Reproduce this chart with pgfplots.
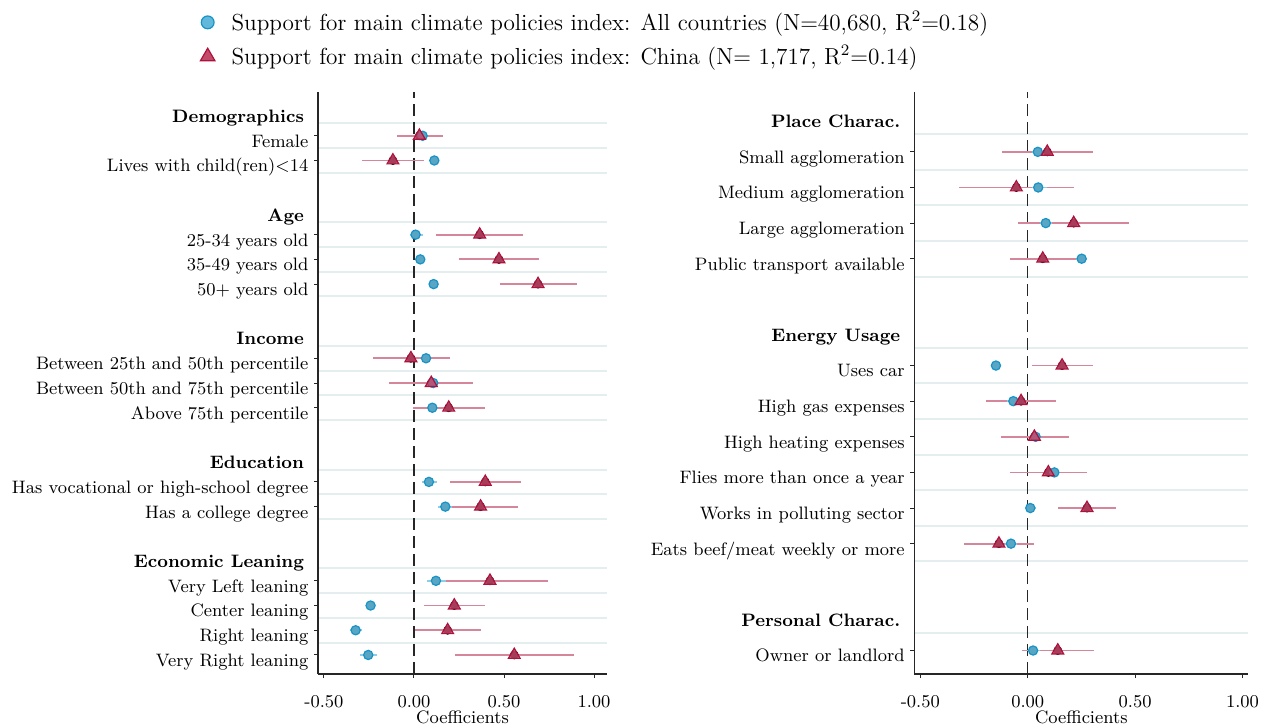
\documentclass[border=0pt]{standalone}
\usepackage{fontspec}
\usepackage{pgfplots}
\pgfplotsset{compat=1.18}
\usepackage{pgfplotstable}

\definecolor{cblue}{RGB}{98,184,218}
\definecolor{cblueedge}{RGB}{22,148,200}
\definecolor{cblueci}{RGB}{140,206,232}
\definecolor{cred}{RGB}{196,74,108}
\definecolor{credge}{RGB}{172,18,60}
\definecolor{credci}{RGB}{214,134,155}
\definecolor{gridc}{RGB}{229,238,239}

% Left panel: All countries
\pgfplotstableread{
row est lo hi
1 0.048 0.028 0.068
2 0.113 0.093 0.133
5 0.009 -0.022 0.052
6 0.035 0.013 0.057
7 0.109 0.089 0.129
10 0.067 0.045 0.089
11 0.107 0.085 0.129
12 0.102 0.080 0.124
15 0.083 0.043 0.126
16 0.174 0.135 0.209
19 0.122 0.074 0.176
20 -0.241 -0.265 -0.217
21 -0.324 -0.356 -0.287
22 -0.254 -0.300 -0.204
}\leftblue
% Left panel: China
\pgfplotstableread{
row est lo hi
1 0.030 -0.096 0.159
2 -0.117 -0.287 0.054
5 0.365 0.122 0.607
6 0.472 0.250 0.696
7 0.689 0.478 0.904
10 -0.017 -0.226 0.200
11 0.096 -0.137 0.328
12 0.193 -0.004 0.393
15 0.396 0.200 0.593
16 0.370 0.163 0.580
19 0.422 0.135 0.743
20 0.224 0.056 0.396
21 0.187 0.006 0.370
22 0.557 0.228 0.891
}\leftred
% Right panel: All countries
\pgfplotstableread{
row est lo hi
0 0.047 0.020 0.074
1 0.049 0.019 0.088
2 0.084 0.055 0.113
3 0.251 0.225 0.277
6 -0.148 -0.170 -0.126
7 -0.067 -0.095 -0.040
8 0.037 0.010 0.064
9 0.124 0.100 0.148
10 0.012 -0.008 0.039
11 -0.078 -0.106 -0.050
14 0.025 -0.005 0.055
}\rightblue
% Right panel: China
\pgfplotstableread{
row est lo hi
0 0.091 -0.120 0.303
1 -0.053 -0.318 0.216
2 0.214 -0.044 0.473
3 0.070 -0.084 0.228
6 0.160 0.018 0.303
7 -0.031 -0.193 0.130
8 0.031 -0.123 0.191
9 0.096 -0.081 0.276
10 0.276 0.141 0.411
11 -0.134 -0.295 0.029
14 0.140 -0.028 0.307
}\rightred

\pgfplotsset{
  common/.style={
    scale only axis,
    axis x line*=bottom, axis y line*=left,
    axis line style={black!85, line width=0.6pt},
    xtick={-0.5,0,0.5,1}, xticklabels={-0.50,0.00,0.50,1.00},
    tick align=outside, major tick length=2pt,
    tick style={black!85, line width=0.5pt},
    every tick label/.append style={font=\fontsize{9}{11}\selectfont},
    xticklabel style={anchor=base, yshift=-14.5pt},
    yticklabel style={anchor=base east, yshift=-5.7pt, xshift=0.7pt},
    yminorgrids, minor tick length=0pt,
    minor grid style={gridc, line width=1pt},
    xlabel={Coefficients},
    xlabel style={font=\fontsize{9}{11}\selectfont, at={(axis description cs:0.5,0)}, anchor=base, yshift=-24.5pt},
    extra y tick style={major tick length=0pt, yticklabel style={xshift=-4.2pt}},
    clip=false,
  },
  ci/.style={only marks, mark=none, forget plot,
    error bars/.cd, x dir=both, x explicit, error mark=none,
    error bar style={line width=0.9pt, draw=#1}},
  bluept/.style={only marks, mark=*, mark size=2.3pt, draw=cblueedge, fill=cblue, fill opacity=0.9, line width=0.6pt, forget plot},
  redpt/.style={only marks, mark=triangle*, mark size=3.4pt, draw=credge, fill=cred, fill opacity=0.85, line width=0.6pt, forget plot},
}

\begin{document}
\begin{tikzpicture}
\useasboundingbox (0,0) rectangle (631pt,362.5pt);
\begin{axis}[common,
  at={(159pt,25.5pt)}, anchor=south west,
  width=144.5pt, height=291pt,
  xmin=-0.533, xmax=1.072, ymin=-22.77, ymax=0.77,
  ytick={-22,-21,-20,-19,-16,-15,-12,-11,-10,-7,-6,-5,-2,-1},
  yticklabels={Very Right leaning, Right leaning, Center leaning, Very Left leaning,
    Has a college degree, Has vocational or high-school degree,
    Above 75th percentile, Between 50th and 75th percentile, Between 25th and 50th percentile,
    50+ years old, 35-49 years old, 25-34 years old,
    Lives with child(ren)$<$14, Female},
  extra y ticks={-18,-14,-9,-4,0},
  extra y tick labels={\textbf{Economic Leaning},\textbf{Education},\textbf{Income},\textbf{Age},\textbf{Demographics}},
  minor ytick={-21.5,-20.5,-19.5,-18.5,-16.5,-15.5,-14.5,-12.5,-11.5,-10.5,-9.5,-7.5,-6.5,-5.5,-4.5,-2.5,-1.5,-0.5},
  legend style={at={(axis description cs:-0.429,1.153)}, anchor=north west, draw=none, fill=none,
    font=\fontsize{11.6}{13.8}\selectfont, row sep=2.1pt,
    /tikz/every odd column/.append style={column sep=6.3pt}},
  legend cell align=left,
]
\addlegendimage{only marks, mark=*, mark size=3.2pt, draw=cblueedge, fill=cblue, line width=0.6pt}
\addlegendentry{Support for main climate policies index: All countries (N=40,680, R$^2$=0.18)}
\addlegendimage{only marks, mark=triangle*, mark size=4.2pt, draw=credge, fill=cred, line width=0.6pt}
\addlegendentry{Support for main climate policies index: China (N= 1,717, R$^2$=0.14)}
\addplot[black!85, line width=0.7pt, dash pattern=on 6pt off 3pt, forget plot] coordinates {(0,-22.77) (0,0.77)};
\addplot[ci=credci] table[x=est, y expr=-\thisrow{row}, x error plus expr=\thisrow{hi}-\thisrow{est}, x error minus expr=\thisrow{est}-\thisrow{lo}] {\leftred};
\addplot[ci=cblueci] table[x=est, y expr=-\thisrow{row}, x error plus expr=\thisrow{hi}-\thisrow{est}, x error minus expr=\thisrow{est}-\thisrow{lo}] {\leftblue};
\addplot[bluept] table[x=est, y expr=-\thisrow{row}] {\leftblue};
\addplot[redpt] table[x=est, y expr=-\thisrow{row}] {\leftred};
\end{axis}

\begin{axis}[common,
  at={(457.15pt,25.5pt)}, anchor=south west,
  width=167pt, height=291pt,
  xmin=-0.528, xmax=1.027, ymin=-14.66, ymax=1.68,
  ytick={-14,-11,-10,-9,-8,-7,-6,-3,-2,-1,0},
  yticklabels={Owner or landlord, Eats beef/meat weekly or more, Works in polluting sector,
    Flies more than once a year, High heating expenses, High gas expenses, Uses car,
    Public transport available, Large agglomeration, Medium agglomeration, Small agglomeration},
  extra y ticks={-13,-5,1},
  extra y tick labels={\textbf{Personal Charac.},\textbf{Energy Usage},\textbf{Place Charac.}},
  minor ytick={-13.5,-11.5,-10.5,-9.5,-8.5,-7.5,-6.5,-5.5,-3.5,-2.5,-1.5,-0.5,0.5},
]
\addplot[black!85, line width=0.7pt, dash pattern=on 6pt off 3pt, forget plot] coordinates {(0,-14.66) (0,1.68)};
\addplot[ci=credci] table[x=est, y expr=-\thisrow{row}, x error plus expr=\thisrow{hi}-\thisrow{est}, x error minus expr=\thisrow{est}-\thisrow{lo}] {\rightred};
\addplot[ci=cblueci] table[x=est, y expr=-\thisrow{row}, x error plus expr=\thisrow{hi}-\thisrow{est}, x error minus expr=\thisrow{est}-\thisrow{lo}] {\rightblue};
\addplot[bluept] table[x=est, y expr=-\thisrow{row}] {\rightblue};
\addplot[redpt] table[x=est, y expr=-\thisrow{row}] {\rightred};
\end{axis}
\end{tikzpicture}
\end{document}
